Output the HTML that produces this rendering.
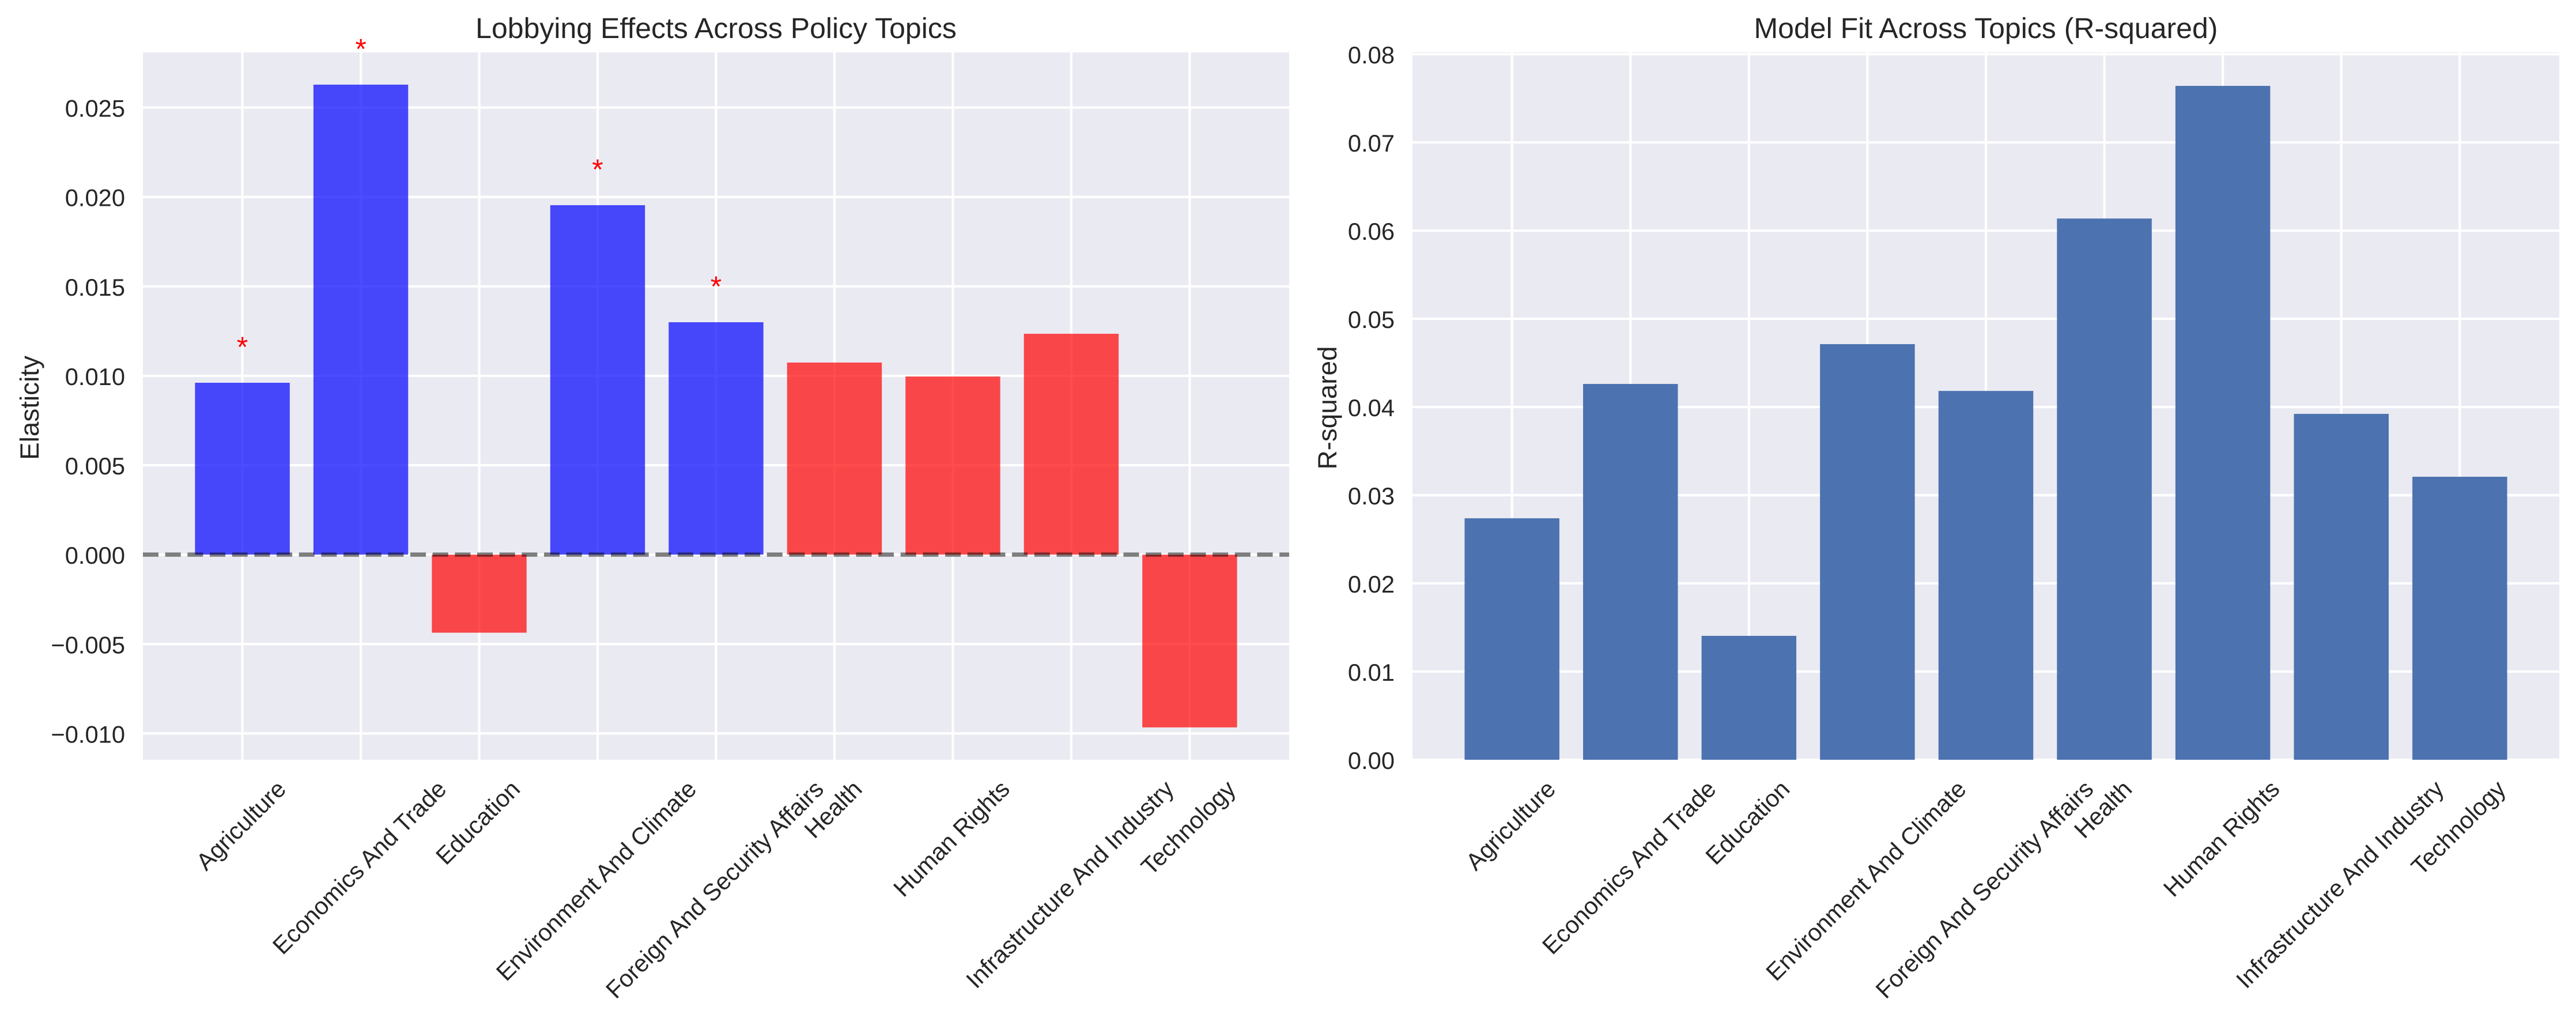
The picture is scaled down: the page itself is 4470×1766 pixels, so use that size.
<!DOCTYPE html>
<html lang="en">
<head>
<meta charset="utf-8">
<title>Lobbying Effects and Model Fit Across Policy Topics</title>
<style>
html,body{margin:0;padding:0;background:#fff;width:4470px;height:1766px;overflow:hidden}
svg{display:block}
text{font-family:"Liberation Sans",Arial,sans-serif;fill:#262626;text-rendering:geometricPrecision}
</style>
</head>
<body>
<svg id="figure" xmlns="http://www.w3.org/2000/svg" width="4470" height="1766" viewBox="0 0 4470 1766">
  <defs>
    <clipPath id="clip-left"><rect x="248" y="91" width="1989" height="1227"/></clipPath>
    <clipPath id="clip-right"><rect x="2451" y="91" width="1990" height="1227"/></clipPath>
  </defs>
</svg>
<script>
const categories = ["Agriculture","Economics And Trade","Education","Environment And Climate","Foreign And Security Affairs","Health","Human Rights","Infrastructure And Industry","Technology"];
const elasticityValues = [0.00961,0.02628,-0.004365,0.01954,0.012995,0.01074,0.00996,0.01235,-0.00966];
const significantFlags = [true,true,false,true,true,false,false,false,false];
const rsquaredValues = [0.02738,0.04261,0.01405,0.04713,0.04182,0.06137,0.07641,0.03922,0.03209];
const elasticityTicks = [-0.010,-0.005,0,0.005,0.010,0.015,0.020,0.025];
const elasticityTickLabels = ["\u22120.010","\u22120.005","0.000","0.005","0.010","0.015","0.020","0.025"];
const rsquaredTicks = [0,0.01,0.02,0.03,0.04,0.05,0.06,0.07,0.08];
const rsquaredTickLabels = ["0.00","0.01","0.02","0.03","0.04","0.05","0.06","0.07","0.08"];

const NS = "http://www.w3.org/2000/svg";
const svg = document.getElementById("figure");
const TOP = 91, BOTTOM = 1318;
const X_MIN = -0.84, X_MAX = 8.84;
const LEFT_FRAME = {x0:248, x1:2237, yMin:-0.01147, yMax:0.02808};
const RIGHT_FRAME = {x0:2451, x1:4441, yMin:0, yMax:0.0802};
const TICK_FS = 41.67, TITLE_FS = 50, LABEL_FS = 45.83, STAR_FS = 50;

function xScale(frame, i){ return frame.x0 + (i - X_MIN) / (X_MAX - X_MIN) * (frame.x1 - frame.x0); }
function yScale(frame, v){ return BOTTOM - (v - frame.yMin) / (frame.yMax - frame.yMin) * (BOTTOM - TOP); }
function barHalfWidth(frame){ return 0.4 * (frame.x1 - frame.x0) / (X_MAX - X_MIN); }

function make(tag, attrs, parent){
  const el = document.createElementNS(NS, tag);
  for (const k in attrs) el.setAttribute(k, attrs[k]);
  parent.appendChild(el);
  return el;
}
function slug(s){ return s.toLowerCase().replace(/\s+/g, "-"); }

function drawAxesBase(frame, clipId, ticks, tickLabels, prefix){
  const g = make("g", {}, svg);
  
  

  const bg = make("rect", {x:frame.x0, y:TOP, width:frame.x1-frame.x0, height:BOTTOM-TOP, fill:"#EAEAF2"}, g);
  
  

  const grid = make("g", {"clip-path":"url(#"+clipId+")", stroke:"#fff", "stroke-width":4.17}, g);
  
  
  ticks.forEach(function(t){
    const y = yScale(frame, t);
    const line = make("line", {x1:frame.x0, x2:frame.x1, y1:y, y2:y}, grid);
    
    
  });
  categories.forEach(function(c, i){
    const x = xScale(frame, i);
    const line = make("line", {x1:x, x2:x, y1:TOP, y2:BOTTOM}, grid);
    
    
  });

  ticks.forEach(function(t, i){
    const label = make("text", {x:frame.x0-31, y:yScale(frame,t)+16, "text-anchor":"end", "font-size":TICK_FS}, g);
    label.textContent = tickLabels[i];
    
    
  });

  categories.forEach(function(c, i){
    const label = make("text", {"text-anchor":"middle", "font-size":TICK_FS}, g);
    label.textContent = c;
    
    
    const w = label.getComputedTextLength();
    const h = TICK_FS * 0.94;
    const half = (w + h) / (2 * Math.SQRT2);
    const cx = xScale(frame, i);
    const cy = BOTTOM + 32 + half;
    label.setAttribute("transform", "translate(" + cx + "," + cy + ") rotate(-45)");
    label.setAttribute("y", TICK_FS * 0.26);
  });
  return g;
}

/* Left panel */
const leftAxes = drawAxesBase(LEFT_FRAME, "clip-left", elasticityTicks, elasticityTickLabels, "elasticity");
const leftBars = make("g", {"clip-path":"url(#clip-left)"}, leftAxes);


categories.forEach(function(c, i){
  const v = elasticityValues[i];
  const cx = xScale(LEFT_FRAME, i), hw = barHalfWidth(LEFT_FRAME);
  const y0 = yScale(LEFT_FRAME, 0), y1 = yScale(LEFT_FRAME, v);
  const bar = make("rect", {x:cx-hw, width:2*hw, y:Math.min(y0,y1), height:Math.abs(y1-y0),
    fill:significantFlags[i] ? "#0000ff" : "#ff0000", "fill-opacity":0.7}, leftBars);
  
  
});
const zeroLine = make("line", {x1:LEFT_FRAME.x0, x2:LEFT_FRAME.x1, y1:yScale(LEFT_FRAME,0), y2:yScale(LEFT_FRAME,0),
  stroke:"#000", "stroke-opacity":0.5, "stroke-width":7.29, "stroke-dasharray":"27 11.67", "clip-path":"url(#clip-left)"}, leftAxes);


categories.forEach(function(c, i){
  if (!significantFlags[i]) return;
  const star = make("text", {x:xScale(LEFT_FRAME,i), y:yScale(LEFT_FRAME,elasticityValues[i])-45,
    "text-anchor":"middle", "font-size":STAR_FS, style:"fill:#ff0000"}, leftAxes);
  star.textContent = "*";
  
  
});
const leftTitle = make("text", {x:(LEFT_FRAME.x0+LEFT_FRAME.x1)/2, y:66, "text-anchor":"middle", "font-size":TITLE_FS}, leftAxes);
leftTitle.textContent = "Lobbying Effects Across Policy Topics";


const leftYLabel = make("text", {"text-anchor":"middle", "font-size":LABEL_FS, transform:"translate(67,707.5) rotate(-90)"}, leftAxes);
leftYLabel.textContent = "Elasticity";



/* Right panel */
const rightAxes = drawAxesBase(RIGHT_FRAME, "clip-right", rsquaredTicks, rsquaredTickLabels, "rsquared");
const rightBars = make("g", {"clip-path":"url(#clip-right)"}, rightAxes);


categories.forEach(function(c, i){
  const v = rsquaredValues[i];
  const cx = xScale(RIGHT_FRAME, i), hw = barHalfWidth(RIGHT_FRAME);
  const y0 = yScale(RIGHT_FRAME, 0), y1 = yScale(RIGHT_FRAME, v);
  const bar = make("rect", {x:cx-hw, width:2*hw, y:y1, height:y0-y1, fill:"#4C72B0"}, rightBars);
  
  
});
const rightTitle = make("text", {x:(RIGHT_FRAME.x0+RIGHT_FRAME.x1)/2, y:66, "text-anchor":"middle", "font-size":TITLE_FS}, rightAxes);
rightTitle.textContent = "Model Fit Across Topics (R-squared)";


const rightYLabel = make("text", {"text-anchor":"middle", "font-size":LABEL_FS, transform:"translate(2319,707.5) rotate(-90)"}, rightAxes);
rightYLabel.textContent = "R-squared";


</script>
</body>
</html>
